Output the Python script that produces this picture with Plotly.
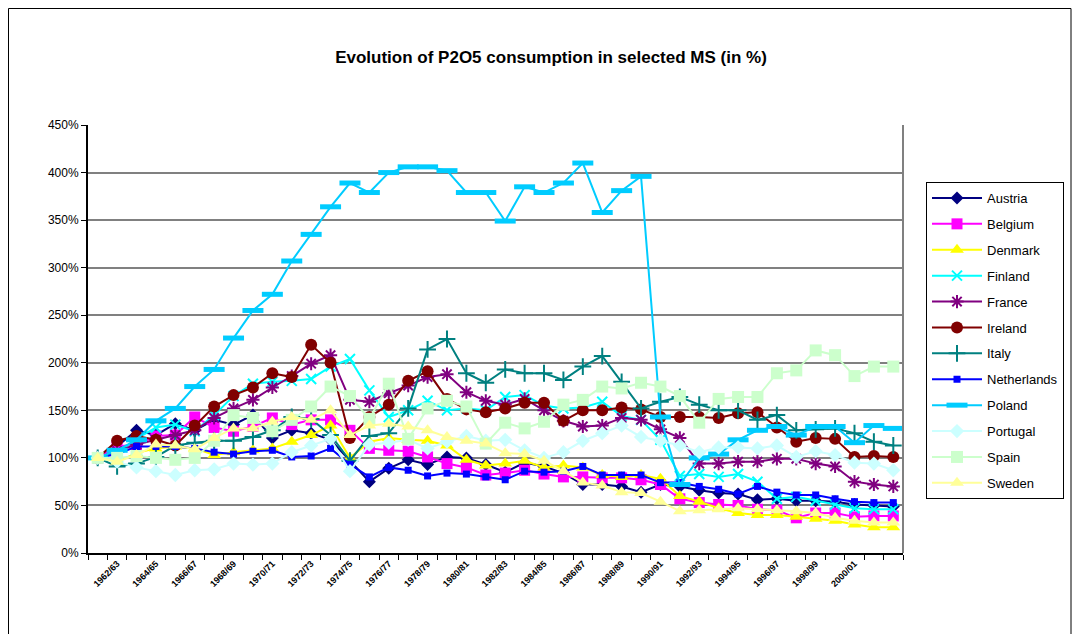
import plotly.graph_objects as go

seasons = [f"{y}/{str(y + 1)[-2:]}" for y in range(1961, 2003)]

austria = [100, 112, 129, 124, 136, 129, 140, 135, 145, 121, 129, 126, 119, 97, 75, 89, 98, 93, 101, 100, 93, 85, 95, 91, 84, 72, 72, 70, 64, 72, 70, 66, 63, 62, 56, 57, 55, 55, 54, 51, 50, 49]
belgium = [100, 112, 114, 123, 124, 143, 132, 128, 133, 142, 135, 140, 140, 129, 110, 108, 107, 101, 94, 90, 82, 84, 87, 83, 80, 80, 79, 79, 77, 72, 57, 53, 51, 50, 46, 45, 37, 42, 42, 38, 39, 39]
denmark = [100, 96, 105, 110, 112, 110, 103, 106, 108, 110, 117, 124, 134, 100, 117, 121, 119, 118, 113, 98, 92, 94, 97, 90, 92, 90, 82, 80, 82, 78, 60, 54, 47, 42, 40, 40, 38, 36, 34, 30, 27, 27]
finland = [100, 105, 120, 132, 135, 128, 145, 165, 178, 180, 181, 183, 196, 204, 171, 143, 150, 160, 150, 152, 150, 164, 166, 155, 152, 153, 159, 144, 140, 119, 81, 83, 80, 83, 75, 57, 59, 55, 51, 47, 46, 46]
france = [100, 107, 114, 119, 124, 129, 142, 152, 161, 174, 186, 199, 208, 161, 159, 168, 176, 185, 188, 169, 160, 156, 162, 150, 139, 133, 134, 142, 140, 130, 121, 94, 94, 96, 96, 99, 99, 94, 91, 75, 72, 70]
ireland = [100, 118, 123, 119, 113, 134, 154, 166, 174, 189, 185, 219, 200, 121, 143, 156, 181, 191, 162, 151, 148, 152, 158, 158, 139, 150, 150, 153, 151, 143, 143, 143, 142, 147, 148, 132, 117, 121, 120, 101, 102, 101]
italy = [100, 91, 94, 101, 113, 116, 118, 118, 122, 129, 143, 141, 124, 97, 123, 126, 152, 214, 225, 189, 179, 193, 189, 189, 182, 196, 207, 180, 152, 159, 164, 156, 150, 150, 140, 145, 129, 130, 131, 126, 117, 113]
netherlands = [100, 104, 112, 112, 112, 110, 106, 104, 107, 108, 101, 102, 110, 93, 80, 90, 87, 81, 84, 83, 80, 77, 86, 85, 86, 91, 82, 82, 82, 74, 74, 70, 67, 62, 70, 64, 61, 61, 57, 54, 53, 53]
poland = [100, 108, 119, 139, 152, 175, 193, 226, 255, 272, 307, 335, 364, 389, 379, 400, 406, 406, 402, 379, 379, 349, 385, 379, 389, 410, 358, 381, 396, 143, 72, 100, 104, 119, 129, 133, 124, 133, 133, 116, 134, 131]
portugal = [100, 96, 90, 86, 82, 87, 88, 94, 93, 94, 106, 113, 120, 86, 114, 116, 119, 110, 117, 123, 118, 119, 108, 100, 106, 118, 126, 134, 122, 118, 113, 106, 111, 111, 110, 113, 101, 107, 103, 95, 94, 87]
spain = [100, 100, 102, 100, 98, 100, 118, 145, 142, 128, 140, 154, 175, 165, 141, 178, 120, 152, 160, 154, 115, 137, 131, 138, 156, 161, 175, 173, 179, 175, 165, 137, 162, 164, 164, 189, 192, 213, 208, 186, 196, 196]
sweden = [100, 96, 103, 114, 113, 109, 121, 131, 131, 138, 143, 140, 150, 124, 134, 136, 133, 129, 122, 118, 115, 105, 104, 97, 86, 74, 71, 64, 63, 54, 44, 45, 46, 47, 46, 45, 44, 42, 37, 34, 32, 32]

y_ticks = list(range(0, 451, 50))
y_tick_labels = [f"{v}%" for v in y_ticks]

series = [
    ("Austria", austria, "#000080", dict(symbol="diamond", size=10)),
    ("Belgium", belgium, "#FF00FF", dict(symbol="square", size=11)),
    ("Denmark", denmark, "#FFFF00", dict(symbol="triangle-up", size=12)),
    ("Finland", finland, "#00FFFF", dict(symbol="x-thin-open", size=10, line=dict(width=2, color="#00FFFF"))),
    ("France", france, "#800080", dict(symbol="asterisk-open", size=11, line=dict(width=2, color="#800080"))),
    ("Ireland", ireland, "#800000", dict(symbol="circle", size=12)),
    ("Italy", italy, "#008080", dict(symbol="cross-thin-open", size=12, line=dict(width=2, color="#008080"))),
    ("Netherlands", netherlands, "#0000FF", dict(symbol="square", size=7)),
    ("Poland", poland, "#00CCFF", dict(symbol="line-ew-open", size=15, line=dict(width=5, color="#00CCFF"))),
    ("Portugal", portugal, "#CCFFFF", dict(symbol="diamond", size=11)),
    ("Spain", spain, "#CCFFCC", dict(symbol="square", size=12)),
    ("Sweden", sweden, "#FFFF99", dict(symbol="triangle-up", size=12)),
]

# page body has an 8px margin: figure origin sits at screen (8, 8)
OFF = 8
W, H = 1064, 626
PL, PR, PT, PB = 88, 903, 125, 553  # plot area in screen pixels

fig = go.Figure()
xs = list(range(len(seasons)))
for name, vals, color, mk in series:
    m = dict(color=color)
    m.update(mk)
    fig.add_trace(go.Scatter(
        x=xs, y=vals, name=name, mode="lines+markers",
        line=dict(color=color, width=2), marker=m, legendgroup=name,
    ))

tick_idx = list(range(1, 40, 2))
pw, ph = PR - PL, PB - PT

fig.update_layout(
    width=W, height=H,
    paper_bgcolor="white", plot_bgcolor="white",
    margin=dict(l=PL - OFF, r=W - (PR - OFF), t=PT - OFF, b=H - (PB - OFF), autoexpand=False),
    font=dict(family="Liberation Sans, Arial, sans-serif", size=12, color="black"),
    title=dict(text="<b>Evolution of P2O5 consumption in selected MS (in %)</b>",
               x=(551 - OFF) / W, xanchor="center", y=1 - (57 - OFF) / H, yanchor="middle",
               yref="container", xref="container",
               font=dict(size=17, family="Liberation Sans, Arial, sans-serif", color="black")),
    legend=dict(x=(926 - PL) / pw, xanchor="left", y=(PB - 182) / ph, yanchor="top",
                bordercolor="black", borderwidth=1, bgcolor="white",
                font=dict(size=13), tracegroupgap=6, traceorder="grouped",
                itemwidth=50),
    showlegend=True,
)

fig.update_xaxes(
    range=[-0.5, len(seasons) - 0.5],
    tickvals=tick_idx, ticktext=[seasons[i] for i in tick_idx],
    tickangle=-45, tickfont=dict(size=9, weight="bold"),
    showgrid=False, zeroline=False,
    showline=True, linecolor="black", linewidth=2,
    ticks="",
    minor=dict(tickvals=[i - 0.5 for i in range(len(seasons) + 1)], ticks="outside",
               ticklen=5, tickcolor="black", tickwidth=1, showgrid=False),
)
fig.update_yaxes(
    range=[0, 450], tickvals=y_ticks, ticktext=y_tick_labels,
    showgrid=True, gridcolor="#808080", gridwidth=1.5,
    zeroline=False, showline=True, linecolor="black", linewidth=2,
    ticks="outside", ticklen=5, tickcolor="black", tickfont=dict(size=12),
)

# plot-area right border
fig.add_shape(type="line", xref="paper", yref="paper", x0=1, x1=1, y0=0, y1=1,
              line=dict(color="#808080", width=2))
# chart-area border (kept inside the figure canvas)
fig.add_shape(type="rect", xref="paper", yref="paper",
              x0=(8.5 - PL) / pw, x1=(1071 - PL) / pw,
              y0=(PB - 660) / ph, y1=(PB - 8.5) / ph,
              line=dict(color="black", width=1))

fig.write_html("out.html")
